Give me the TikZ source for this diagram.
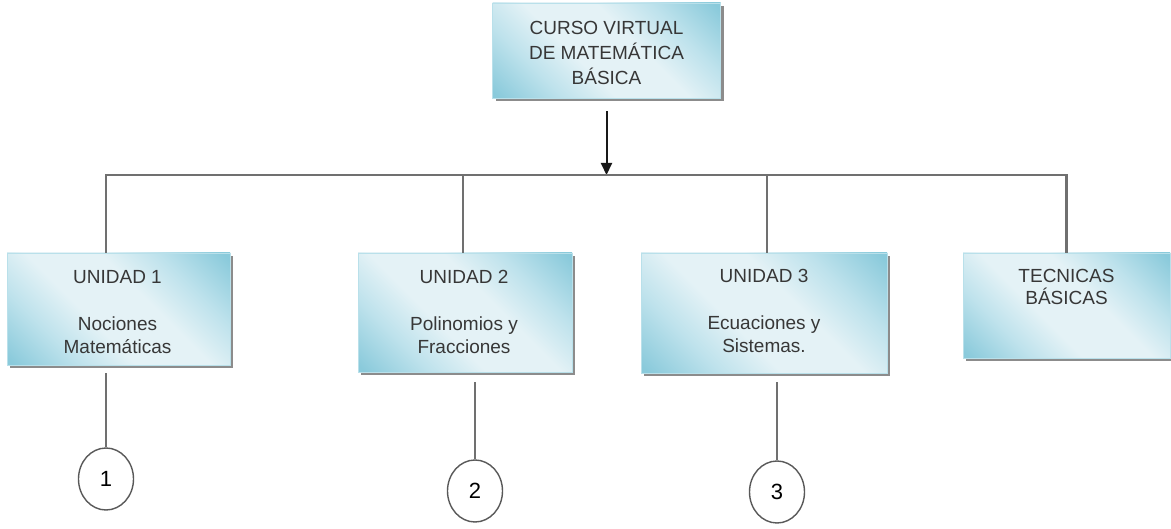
\documentclass[tikz,border=0pt]{standalone}
\usepackage{fontspec}
\setmainfont{Liberation Sans}
\usetikzlibrary{shadows,shapes.geometric,arrows.meta}

\definecolor{bxdark}{RGB}{138,202,219}
\definecolor{bxmid}{RGB}{190,226,236}
\definecolor{bxlight}{RGB}{228,242,246}
\definecolor{bxedge}{RGB}{185,224,234}
\definecolor{wiregray}{RGB}{112,112,112}
\definecolor{ink}{RGB}{55,55,55}

% diagonal light band across a light-blue panel
\pgfdeclarehorizontalshading{boxshade}{100bp}{color(0bp)=(bxdark); color(16bp)=(bxdark); color(30bp)=(bxmid); color(42bp)=(bxlight); color(58bp)=(bxlight); color(70bp)=(bxmid); color(84bp)=(bxdark); color(100bp)=(bxdark)}

\begin{document}
\begin{tikzpicture}[x=1pt,y=-1pt,
  unitbox/.style={rectangle, draw=bxedge, line width=0.8pt, shading=boxshade,
    shading angle=45, inner sep=0pt,
    drop shadow={shadow xshift=3pt, shadow yshift=-3pt, fill=black!45, opacity=1}},
  boxtext/.style={anchor=north, align=center, inner sep=0pt, text=ink,
    font=\fontsize{19}{23}\selectfont},
  link/.style={draw=wiregray, line width=2.2pt},
  numcirc/.style={ellipse, draw=black!65, line width=1.4pt, minimum width=55pt,
    minimum height=62pt, inner sep=0pt, text=black, font=\fontsize{22}{22}\selectfont}
]
\fill[white] (0,0) rectangle (1171,529);
\useasboundingbox (0,0) rectangle (1171,529);

% title panel
\node[unitbox, minimum width=228pt, minimum height=95pt] (top) at (606.5,50.5) {};
\node[boxtext, font=\fontsize{19}{25}\selectfont] (toptext) at ([yshift=-18.5pt]top.north)
  {CURSO VIRTUAL\\DE MATEMÁTICA\\BÁSICA};

% unit panels
\node[unitbox, minimum width=223pt, minimum height=112pt] (u1) at (118.5,309) {};
\node[unitbox, minimum width=214pt, minimum height=119pt] (u2) at (465,312.5) {};
\node[unitbox, minimum width=246pt, minimum height=120pt] (u3) at (764,313) {};
\node[unitbox, minimum width=207pt, minimum height=105pt] (u4) at (1066.5,305.5) {};

\node[boxtext] (t1) at ([xshift=-1pt,yshift=-17.5pt]u1.north) {UNIDAD 1\\[24pt]Nociones\\Matemáticas};
\node[boxtext] (t2) at ([xshift=-1pt,yshift=-17.5pt]u2.north) {UNIDAD 2\\[24pt]Polinomios y\\Fracciones};
\node[boxtext] (t3) at ([yshift=-16.5pt]u3.north) {UNIDAD 3\\[24pt]Ecuaciones y\\Sistemas.};
\node[boxtext, font=\fontsize{19}{22}\selectfont] (t4) at ([yshift=-16.5pt]u4.north) {TECNICAS\\BÁSICAS};

% numbered circles
\node[numcirc] (c1) at (106,479) {1};
\node[numcirc] (c2) at (475,491) {2};
\node[numcirc] (c3) at (777,492) {3};

% distribution bus
\coordinate (bus) at (606.5,175);
\coordinate (u1top) at ([xshift=-12.5pt]u1.north);
\coordinate (u2top) at ([xshift=-2pt]u2.north);
\coordinate (u3top) at ([xshift=3pt]u3.north);
\coordinate (u4top) at (u4.north);

\draw[line width=2pt, black!90, -{Triangle[length=12pt,width=11pt]}]
  ([yshift=-13pt]top.south) -- (top.south |- bus);
\draw[link] (u1top) -- (u1top |- bus) -- (u4top |- bus) -- (u4top);
\draw[link] (u2top |- bus) -- (u2top);
\draw[link] (u3top |- bus) -- (u3top);

% drops to the circles
\coordinate (u1foot) at ([yshift=-8pt]u1.south);
\coordinate (u2foot) at ([yshift=-10pt]u2.south);
\coordinate (u3foot) at ([yshift=-9pt]u3.south);
\draw[link] (u1foot -| c1.north) -- (c1.north);
\draw[link] (u2foot -| c2.north) -- (c2.north);
\draw[link] (u3foot -| c3.north) -- (c3.north);
\end{tikzpicture}
\end{document}
